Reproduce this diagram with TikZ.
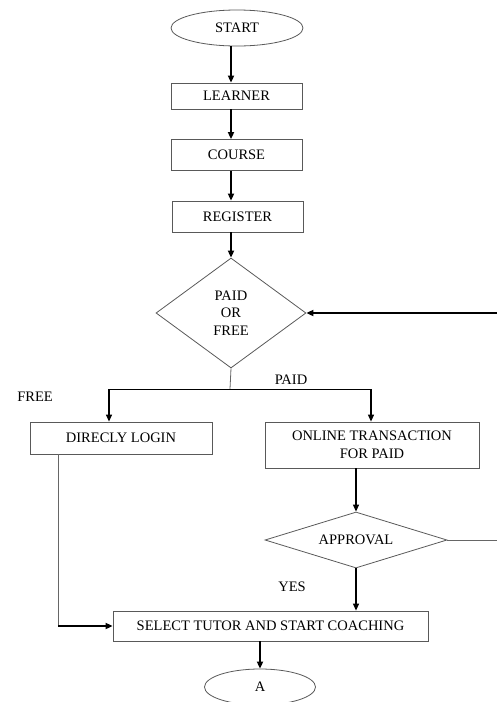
\documentclass[tikz,border=0pt]{standalone}
\usepackage{fontspec}
\setmainfont{Liberation Serif}
\usetikzlibrary{
	shapes.geometric,
	arrows.meta
}

\tikzset{
	box/.style={draw=black!65,line width=0.8pt,inner sep=0pt,align=center},
	term/.style={ellipse,draw=black!65,line width=0.8pt,inner sep=0pt},
	decision/.style={diamond,draw=black!65,line width=0.8pt,inner sep=0pt,align=center},
	flow/.style={-{Triangle[length=7pt,width=6pt]},line width=1.8pt},
	thinflow/.style={-{Triangle[length=7pt,width=6pt]},line width=1.1pt},
	wire/.style={draw=black!60,line width=0.8pt}
}

\begin{document}
\begin{tikzpicture}[x=1pt,y=-1pt,font=\fontsize{14.5}{17.5}\selectfont]
	\useasboundingbox (0,0) rectangle (497,702);
	\clip (0,0) rectangle (497,702);
	\draw
		node [term,minimum width=132pt,minimum height=36pt]      (start)  at (237,28)    {START}
		node [box,minimum width=131pt,minimum height=26pt]       (learner) at (236.5,96) {LEARNER}
		node [box,minimum width=131pt,minimum height=31pt]       (course) at (236.5,155) {COURSE}
		node [box,minimum width=131pt,minimum height=31pt]       (reg)    at (237.5,216.5) {REGISTER}
		node [decision,aspect=1.36,minimum width=150pt,minimum height=110pt] (pof) at (231,313) {PAID\\OR\\FREE}
		node [box,minimum width=182pt,minimum height=32pt]       (login)  at (121,438)   {DIRECLY LOGIN}
		node [box,minimum width=214pt,minimum height=46pt]       (online) at (372,445)   {ONLINE TRANSACTION\\FOR PAID}
		node [decision,aspect=3.25,minimum width=182pt,minimum height=56pt] (appr) at (356,540) {APPROVAL}
		node [box,minimum width=315pt,minimum height=30pt]       (select) at (270.5,626) {SELECT TUTOR AND START COACHING}
		node [term,minimum width=111pt,minimum height=36pt]      (a)      at (260,687)   {A}
	;
	% labels of the branches
	\node (paid) at (291,380) {PAID};
	\node (free) at (35,397)  {FREE};
	\node (yes)  at (292,587) {YES};
	% points of the wiring
	\coordinate (br)  at (230,389);
	\coordinate (bl)  at (109,389);
	\coordinate (bri) at (371,389);
	\coordinate (ld)  at (58,626);
	\coordinate (r1)  at (497,540);
	\coordinate (r2)  at (497,313);
	\draw[flow] (pof.north |- start.south)   -- (pof.north |- learner.north);
	\draw[flow] (pof.north |- learner.south) -- (pof.north |- course.north);
	\draw[flow] (pof.north |- course.south)  -- (pof.north |- reg.north);
	\draw[flow] (pof.north |- reg.south)     -- (pof.north);
	\draw[wire] (pof.south) -- (br);
	\draw[line width=1pt] (bl) -- (bri);
	\draw[thinflow] (bl)  -- (login.north -| bl);
	\draw[thinflow] (bri) -- (online.north -| bri);
	\draw[thinflow] (appr.north |- online.south) -- (appr.north);
	\draw[wire] (appr.east) -- (r1);
	\draw[flow] (r2) -- (pof.east);
	\draw[thinflow] (appr.south) -- (appr.south |- select.north);
	\draw[wire] (login.south -| ld) -- (ld);
	\draw[flow] (ld) -- (ld -| select.west);
	\draw[flow] (a.north |- select.south) -- (a.north);
\end{tikzpicture}
\end{document}
